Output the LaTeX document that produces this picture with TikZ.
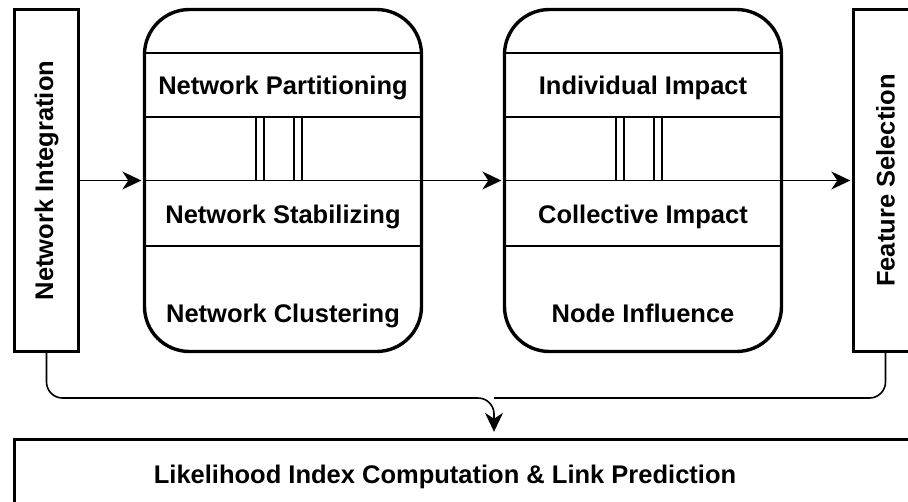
\documentclass[tikz,border=0pt]{standalone}
\usepackage{fontspec}
\setmainfont{Liberation Sans}
\usetikzlibrary{positioning,calc,arrows.meta}

\tikzset{
  frame/.style={draw,line width=3.4pt},
  stage/.style={frame,rounded corners=45pt,minimum width=277pt,minimum height=342pt},
  side/.style={frame,rotate=90,minimum width=342pt,minimum height=64pt,font=\fontsize{25.5}{30}\selectfont\bfseries},
  txt/.style={anchor=base,font=\fontsize{25.5}{30}\selectfont\bfseries},
  sep/.style={line width=1.6pt},
  flow/.style={line width=1.6pt,-{Stealth[length=19pt,width=18pt,inset=6pt]},shorten >=1.5pt},
}

\begin{document}
\begin{tikzpicture}[x=1pt,y=-1pt]
  \clip (0,0) rectangle (908,501);
  \useasboundingbox (0,0) rectangle (908,501);
  \node[side] (ni) at (46.5,180.5) {Network Integration};
  \node[stage] (mp) at (283,180.5) {};
  \node[stage] (ci) at (643,180.5) {};
  \node[side] (fs) at (885.5,180.5) {Feature Selection};
  \node[frame,minimum width=925pt,minimum height=100pt] (lp) at (477,489.5) {};
  \foreach \s in {mp,ci} {
    \foreach \dy in {-127.5,-63.5,0,65.5}
      \draw[sep] ($(\s.west)+(0,\dy)$) -- ($(\s.east)+(0,\dy)$);
    \foreach \dx in {-27,-19,11,19}
      \draw[sep] ($(\s.center)+(\dx,-63.5)$) -- ++(0,63.5);
  }
  \node[txt] (n01) at (283,94) {Network Partitioning};
  \node[txt] (n02) at (283,223) {Network Stabilizing};
  \node[txt] (n03) at (283,322) {Network Clustering};
  \node[txt] (n11) at (643,94) {Individual Impact};
  \node[txt] (n12) at (643,223) {Collective Impact};
  \node[txt] (n13) at (643,322) {Node Influence};
  \node[txt] (n20) at (445,483) {Likelihood Index Computation \& Link Prediction};
  \coordinate (jn) at (494,398);
  \path[flow] (ni.south) edge (mp.west)
              (mp.east) edge (ci.west)
              (ci.east) edge (fs.north);
  \draw[flow,rounded corners=16pt,shorten >=6pt] (ni.west) |- (jn) -- (jn |- lp.north);
  \draw[sep,rounded corners=16pt] (fs.west) |- (jn);
\end{tikzpicture}
\end{document}
